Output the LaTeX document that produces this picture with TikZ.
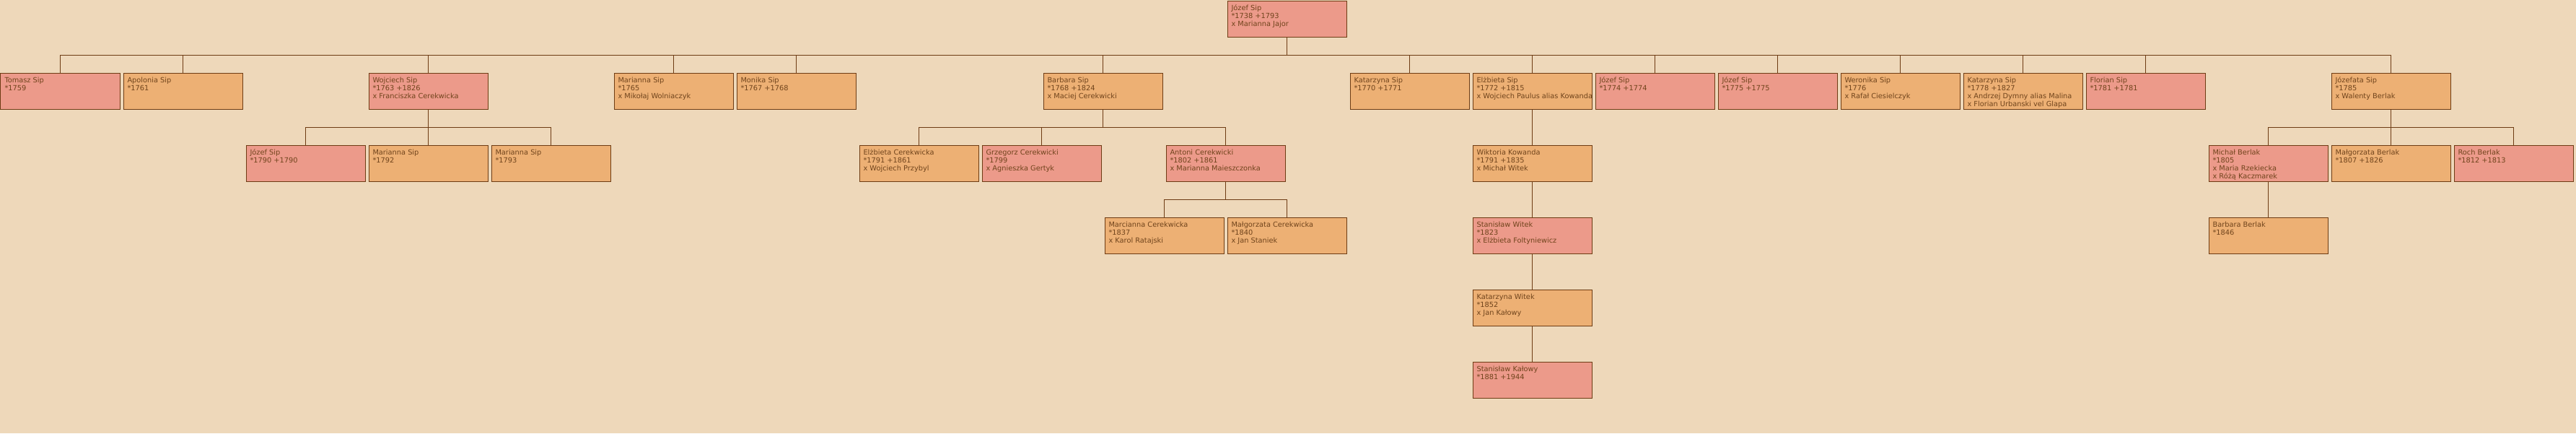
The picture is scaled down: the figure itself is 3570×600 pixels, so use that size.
\documentclass[tikz,border=0pt]{standalone}
\usepackage{fontspec}
\usepackage{tikz}
\newfontfamily\sipfont{DejaVu Sans}
\definecolor{sBg}{RGB}{238,216,186}
\definecolor{sMale}{RGB}{236,154,138}
\definecolor{sFemale}{RGB}{237,176,116}
\definecolor{sLine}{RGB}{110,60,20}
\definecolor{sText}{RGB}{112,68,28}

\begin{document}
\begin{tikzpicture}[x=1pt, y=-1pt,
  box/.style={draw=sLine, line width=1pt, minimum width=165pt, minimum height=50pt,
    inner sep=0pt, anchor=north west,
    path picture={\node[anchor=base west, inner sep=0pt, text=sText,
      font=\sipfont\fontsize{9.8}{11.3}\selectfont]
      at ([shift={(5pt,-13pt)}]path picture bounding box.north west) {\parbox[t]{200pt}{\txt}};}},
  male/.style={box, fill=sMale},
  female/.style={box, fill=sFemale},
  link/.style={draw=sLine, line width=1pt}]
  \fill[sBg] (-0.5,-0.5) rectangle (3569.5,599.5);
  \useasboundingbox (-0.5,-0.5) rectangle (3569.5,599.5);
  \foreach \id/\c/\r/\sex/\txt in {
    jozef/10/0/male/{Józef Sip\\{}*1738 +1793\\x Marianna Jajor},
    tomasz/0/1/male/{Tomasz Sip\\{}*1759},
    apolonia/1/1/female/{Apolonia Sip\\{}*1761},
    wojciech/3/1/male/{Wojciech Sip\\{}*1763 +1826\\x Franciszka Cerekwicka},
    marianna/5/1/female/{Marianna Sip\\{}*1765\\x Mikołaj Wolniaczyk},
    monika/6/1/female/{Monika Sip\\{}*1767 +1768},
    barbara/8.5/1/female/{Barbara Sip\\{}*1768 +1824\\x Maciej Cerekwicki},
    katarzyna/11/1/female/{Katarzyna Sip\\{}*1770 +1771},
    elzbieta/12/1/female/{Elżbieta Sip\\{}*1772 +1815\\x Wojciech Paulus alias Kowanda},
    jozefA/13/1/male/{Józef Sip\\{}*1774 +1774},
    jozefB/14/1/male/{Józef Sip\\{}*1775 +1775},
    weronika/15/1/female/{Weronika Sip\\{}*1776\\x Rafał Ciesielczyk},
    katarzynaB/16/1/female/{Katarzyna Sip\\{}*1778 +1827\\x Andrzej Dymny alias Malina\\x Florian Urbanski vel Glapa},
    florian/17/1/male/{Florian Sip\\{}*1781 +1781},
    jozefata/19/1/female/{Józefata Sip\\{}*1785\\x Walenty Berlak},
    jozefW/2/2/male/{Józef Sip\\{}*1790 +1790},
    mariannaW/3/2/female/{Marianna Sip\\{}*1792},
    mariannaX/4/2/female/{Marianna Sip\\{}*1793},
    elzbietaC/7/2/female/{Elżbieta Cerekwicka\\{}*1791 +1861\\x Wojciech Przybyl},
    grzegorz/8/2/male/{Grzegorz Cerekwicki\\{}*1799\\x Agnieszka Gertyk},
    antoni/9.5/2/male/{Antoni Cerekwicki\\{}*1802 +1861\\x Marianna Maieszczonka},
    wiktoria/12/2/female/{Wiktoria Kowanda\\{}*1791 +1835\\x Michał Witek},
    michal/18/2/male/{Michał Berlak\\{}*1805\\x Maria Rzekiecka\\x Różą Kaczmarek},
    malgorzataB/19/2/female/{Małgorzata Berlak\\{}*1807 +1826},
    roch/20/2/male/{Roch Berlak\\{}*1812 +1813},
    marcianna/9/3/female/{Marcianna Cerekwicka\\{}*1837\\x Karol Ratajski},
    malgorzataC/10/3/female/{Małgorzata Cerekwicka\\{}*1840\\x Jan Staniek},
    stanislawW/12/3/male/{Stanisław Witek\\{}*1823\\x Elżbieta Foltyniewicz},
    barbaraB/18/3/female/{Barbara Berlak\\{}*1846},
    katarzynaW/12/4/female/{Katarzyna Witek\\{}*1852\\x Jan Kałowy},
    stanislawK/12/5/male/{Stanisław Kałowy\\{}*1881 +1944}} {
    \node[\sex] (\id) at (170*\c, 100*\r) {};
  }
  \foreach \p/\k in {
    jozef/tomasz, jozef/apolonia, jozef/wojciech, jozef/marianna, jozef/monika,
    jozef/barbara, jozef/katarzyna, jozef/elzbieta, jozef/jozefA, jozef/jozefB,
    jozef/weronika, jozef/katarzynaB, jozef/florian, jozef/jozefata,
    wojciech/jozefW, wojciech/mariannaW, wojciech/mariannaX,
    barbara/elzbietaC, barbara/grzegorz, barbara/antoni,
    elzbieta/wiktoria,
    jozefata/michal, jozefata/malgorzataB, jozefata/roch,
    antoni/marcianna, antoni/malgorzataC,
    wiktoria/stanislawW, michal/barbaraB,
    stanislawW/katarzynaW, katarzynaW/stanislawK} {
    \draw[link] (\p.south) -- ++(0,25) -| (\k.north);
  }
\end{tikzpicture}
\end{document}
